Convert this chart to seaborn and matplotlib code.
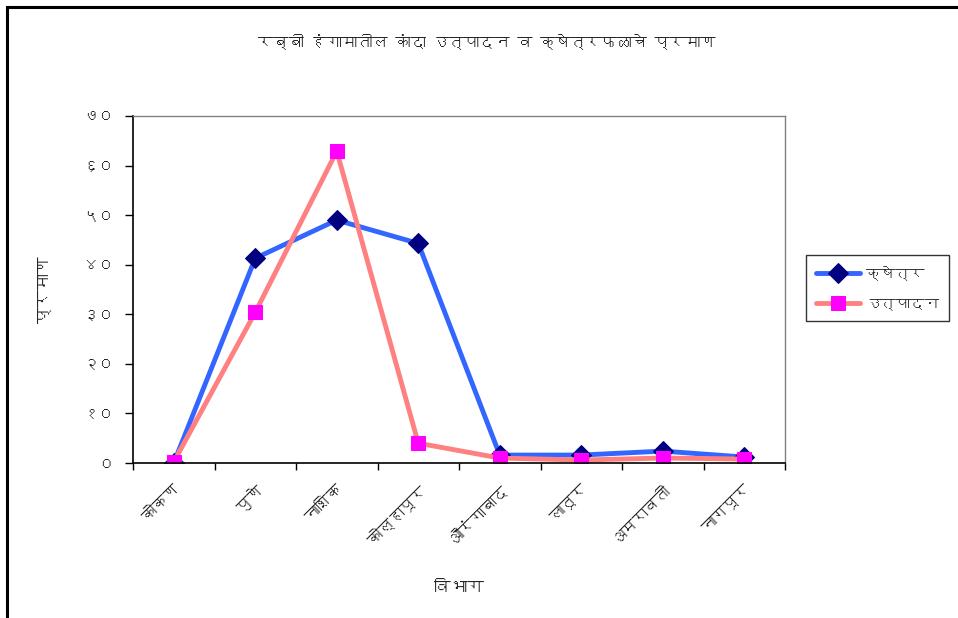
import matplotlib
matplotlib.use("Agg")
import matplotlib.pyplot as plt
from matplotlib import font_manager
from matplotlib.ft2font import FT2Font
import seaborn as sns
import pandas as pd
from matplotlib.patches import Rectangle

categories = ["कोकण", "पुणे", "नाशिक", "कोल्हापूर", "औरंगाबाद", "लातूर", "अमरावती", "नागपूर"]
area = [0.0, 41.3, 49.0, 44.3, 1.6, 1.6, 2.4, 1.2]
production = [0.2, 30.4, 62.9, 4.0, 1.0, 0.6, 1.0, 0.8]
ytick_values = [0, 10, 20, 30, 40, 50, 60, 70]
ytick_labels = ["०", "१०", "२०", "३०", "४०", "५०", "६०", "७०"]
title = "रब्बी हंगामातील कांदा उत्पादन व क्षेत्रफळाचे प्रमाण"
xlabel = "विभाग"
ylabel = "प्रमाण"
series_names = ["क्षेत्र", "उत्पादन"]

sns.set_style("white")

# find a font with Devanagari coverage
dev_family = None
for f in font_manager.fontManager.ttflist:
    try:
        cm = FT2Font(f.fname).get_charmap()
        if 0x0915 in cm and 0x0966 in cm:
            dev_family = f.name
            break
    except Exception:
        pass
fams = ([dev_family] if dev_family else []) + ["DejaVu Sans", "Noto Sans"]
plt.rcParams["font.family"] = fams

df = pd.DataFrame({"idx": list(range(len(categories))), "area": area, "production": production})

fig = plt.figure(figsize=(9.58, 6.18), dpi=100)
ax = fig.add_axes([133/958, 1-463/618, (785-133)/958, (463-116)/618])

sns.lineplot(data=df, x="idx", y="area", ax=ax, color="#3366FF", lw=3.5,
             marker="D", markersize=12, markerfacecolor="#000080",
             markeredgecolor="#000080", label=series_names[0])
sns.lineplot(data=df, x="idx", y="production", ax=ax, color="#FF8080", lw=3.5,
             marker="s", markersize=14, markerfacecolor="#FF00FF",
             markeredgecolor="#FF00FF", label=series_names[1])

ax.set_xlim(-0.5, len(categories) - 0.5)
ax.set_ylim(0, 70)
ax.set_yticks(ytick_values)
ax.set_yticklabels(ytick_labels, fontsize=11)
ax.set_xticks([i - 0.5 for i in range(len(categories) + 1)])
ax.set_xticklabels([])
ax.set_xticks(list(range(len(categories))), minor=True)
ax.set_xticklabels(categories, minor=True, rotation=45, ha="right",
                   rotation_mode="anchor", fontsize=11)
ax.tick_params(axis="x", which="minor", length=0, pad=14)
ax.tick_params(axis="x", which="major", length=5, width=1, color="black", direction="out")
ax.tick_params(axis="y", length=6, width=1, color="black", direction="out", pad=8)
ax.tick_params(bottom=True, left=True)

for s in ["left", "bottom"]:
    ax.spines[s].set_color("black")
    ax.spines[s].set_linewidth(1.2)
for s in ["top", "right"]:
    ax.spines[s].set_color("#808080")
    ax.spines[s].set_linewidth(1.0)

ax.set_xlabel(xlabel, fontsize=12)
ax.set_ylabel(ylabel, fontsize=12)
ax.xaxis.set_label_coords(0.5, -0.34)
ax.yaxis.set_label_coords(-0.125, 0.5)

fig.text(487/958, 1-42/618, title, ha="center", va="center", fontsize=11)

handles, labels = ax.get_legend_handles_labels()
for h in handles:
    h.set_markersize(10)
leg = fig.legend(handles, labels, loc="center left", bbox_to_anchor=(806/958, 1-288/618),
                 frameon=True, fancybox=False, edgecolor="black", fontsize=10.5,
                 handlelength=3.0, handletextpad=0.4, borderpad=0.7,
                 labelspacing=1.2, borderaxespad=0)
leg.get_frame().set_linewidth(1.0)
ax.get_legend().remove()

fig.patches.append(Rectangle((7/958, -0.1), 1.2, 1 - 7/618 + 0.1, transform=fig.transFigure,
                             fill=False, edgecolor="black", linewidth=2.2, zorder=10))

fig.savefig("out.png", dpi=100)
